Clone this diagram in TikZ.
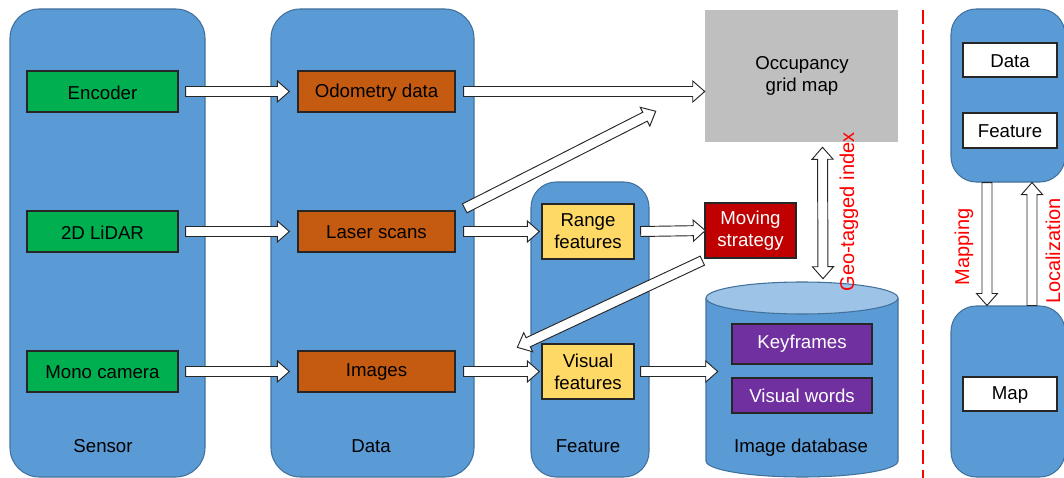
\documentclass[tikz,border=0pt]{standalone}
\usepackage{fontspec}
\setmainfont{Liberation Sans}
\usetikzlibrary{calc,fit}
\definecolor{cblue}{HTML}{5B9BD5}
\definecolor{cbord}{HTML}{41719C}
\definecolor{cgreen}{HTML}{00B050}
\definecolor{corange}{HTML}{C55A11}
\definecolor{cyellow}{HTML}{FFD966}
\definecolor{cred}{HTML}{C00000}
\definecolor{cpurple}{HTML}{7030A0}
\definecolor{cgray}{HTML}{BFBFBF}
\definecolor{ctop}{HTML}{9DC3E6}
\definecolor{cline}{HTML}{262626}
\newcommand\baW{3.75pt}
\newcommand\baH{7.9pt}
\newcommand\baL{9pt}
\newcommand\blockarrow[2]{%
  \path (#1) coordinate (ba) (#2) coordinate (bb);
  \draw[blockarr] ($(ba)!\baW!90:(bb)$) -- ($(bb)!\baL!(ba)!\baW!-90:(ba)$)
    -- ($(bb)!\baL!(ba)!\baH!-90:(ba)$) -- (bb)
    -- ($(bb)!\baL!(ba)!\baH!90:(ba)$) -- ($(bb)!\baL!(ba)!\baW!90:(ba)$)
    -- ($(ba)!\baW!-90:(bb)$) -- cycle;}
\newcommand\dblockarrow[2]{%
  \path (#1) coordinate (ba) (#2) coordinate (bb);
  \draw[blockarr] (ba) -- ($(ba)!\baL!(bb)!\baH!-90:(bb)$) -- ($(ba)!\baL!(bb)!\baW!-90:(bb)$)
    -- ($(bb)!\baL!(ba)!\baW!90:(ba)$) -- ($(bb)!\baL!(ba)!\baH!90:(ba)$) -- (bb)
    -- ($(bb)!\baL!(ba)!\baH!-90:(ba)$) -- ($(bb)!\baL!(ba)!\baW!-90:(ba)$)
    -- ($(ba)!\baL!(bb)!\baW!90:(bb)$) -- ($(ba)!\baL!(bb)!\baH!90:(bb)$) -- cycle;}
\tikzset{
  txt/.style={font=\fontsize{14pt}{16.5pt}\selectfont, align=center, inner sep=0pt},
  wtxt/.style={txt, text=white},
  cont/.style={draw=cbord, fill=cblue, line width=0.8pt, rounded corners=22pt, inner sep=0pt},
  sbox/.style={draw=cline, line width=1pt, inner sep=0pt},
  blockarr/.style={draw=cline, fill=white, line width=0.7pt, line join=miter},
  redlab/.style={txt, font=\fontsize{15pt}{18pt}\selectfont, text=red, rotate=90},
}
\begin{document}
\begin{tikzpicture}[x=0.75pt, y=-0.75pt]
\useasboundingbox (0,0) rectangle (1064,478);
% containers
\node[cont, fit={(10,9) (205,477)}] (sensor) {};
\node[cont, fit={(271,9) (474,477)}] (data) {};
\node[cont, rounded corners=19pt, fit={(531,182) (649,477)}] (feat) {};
\node[txt] (sensorlab) at (103,446) {Sensor};
\node[txt] (datalab) at (371,446) {Data};
\node[txt] (featlab) at (588,446) {Feature};
% sensors
\node[sbox, fill=cgreen, fit={(27,71) (178,112)}] (enc) {};
\node[txt] (enct) at ($(enc)+(0,1)$) {Encoder};
\node[sbox, fill=cgreen, fit={(27,211) (178,252)}] (lid) {};
\node[txt] (lidt) at ($(lid)+(0,1)$) {2D LiDAR};
\node[sbox, fill=cgreen, fit={(27,351) (178,392)}] (cam) {};
\node[txt] (camt) at ($(cam)+(0,1)$) {Mono camera};
% data
\node[sbox, fill=corange, fit={(298,71) (455,112)}] (odo) {};
\node[txt] (odot) at ($(odo)+(0,1)$) {Odometry data};
\node[sbox, fill=corange, fit={(298,211) (455,252)}] (las) {};
\node[txt] (last) at ($(las)+(0,1)$) {Laser scans};
\node[sbox, fill=corange, fit={(298,351) (455,392)}] (img) {};
\node[txt] (imgt) at ($(img)+(0,1)$) {Images};
% features
\node[sbox, fill=cyellow, fit={(542,204) (634,259)}] (rng) {};
\node[txt] (rngt) at (rng) {Range\\features};
\node[sbox, fill=cyellow, fit={(542,344) (634,399)}] (vis) {};
\node[txt] (vist) at (vis) {Visual\\features};
% occupancy
\node[fill=cgray, inner sep=0pt, fit={(705,10) (898,142)}] (occ) {};
\node[txt] (occlab) at (802,76) {Occupancy\\grid map};
% moving strategy
\node[sbox, fill=cred, fit={(705,203) (796,258)}] (mov) {};
\node[wtxt] (movt) at (mov) {Moving\\strategy};
% database cylinder
\node[inner sep=0pt, fit={(706,282) (898,478)}] (db) {};
\path[draw=cbord, fill=cblue, line width=0.8pt] (706,298) -- (706,461)
  arc[start angle=180, end angle=0, x radius=96, y radius=16] -- (898,298);
\draw[cbord, fill=ctop, line width=0.8pt] (802,298) ellipse[x radius=96, y radius=16];
\node[sbox, fill=cpurple, fit={(732,324) (872,364)}] (key) {};
\node[wtxt] (keyt) at (key) {Keyframes};
\node[sbox, fill=cpurple, fit={(732,378) (872,413)}] (vw) {};
\node[wtxt] (vwt) at (vw) {Visual words};
\node[txt] (dblab) at (801,448) {Image database};
% arrows
\blockarrow{$(enc.east)+(7,0)$}{$(odo.west)+(-8,0)$}
\blockarrow{$(lid.east)+(7,0)$}{$(las.west)+(-8,0)$}
\blockarrow{$(cam.east)+(7,0)$}{$(img.west)+(-8,0)$}
\blockarrow{$(odo.east)+(8,0)$}{occ.west |- odo.east}
\blockarrow{$(las.north east)+(9,-2)$}{$(occ.south west)+(-49,-31)$}
\blockarrow{$(las.east)+(8,0)$}{$(rng.west)+(-2,0)$}
\blockarrow{$(rng.east)+(6,0)$}{$(mov.west)+(1,0)$}
\blockarrow{$(mov.south west)+(-2,2)$}{$(vis.north west)+(-24,4)$}
\blockarrow{$(img.east)+(8,0)$}{$(vis.west)+(-2,0)$}
\blockarrow{$(vis.east)+(6,0)$}{$(db.west |- vis.east)+(12,0)$}
\dblockarrow{$(occ.south)+(21,5)$}{$(db.north)+(21,-3)$}
\node[redlab] (geolab) at (849,212) {Geo-tagged index};
% separator
\draw[red, line width=1pt, dash pattern=on 10.5pt off 4.5pt] (923,10) -- (923,478);
% right panel
\node[cont, rounded corners=19pt, fit={(951,9) (1065,182)}] (rp1) {};
\node[cont, rounded corners=19pt, fit={(951,306) (1065,477)}] (rp2) {};
\node[sbox, fill=white, fit={(963,43) (1057,77)}] (rdata) {};
\node[txt] (rdatat) at ($(rdata)+(0,1)$) {Data};
\node[sbox, fill=white, fit={(963,113) (1057,148)}] (rfeat) {};
\node[txt] (rfeatt) at ($(rfeat)+(0,1)$) {Feature};
\node[sbox, fill=white, fit={(963,377) (1057,411)}] (rmap) {};
\node[txt] (rmapt) at ($(rmap)+(0,1)$) {Map};
\blockarrow{$(rp1.south)+(-21,0)$}{$(rp2.north)+(-21,0)$}
\blockarrow{$(rp2.north)+(24,0)$}{$(rp1.south)+(24,0)$}
\node[redlab] (maplab) at (964,247) {Mapping};
\node[redlab] (loclab) at (1053,251) {Localization};
\end{tikzpicture}
\end{document}
